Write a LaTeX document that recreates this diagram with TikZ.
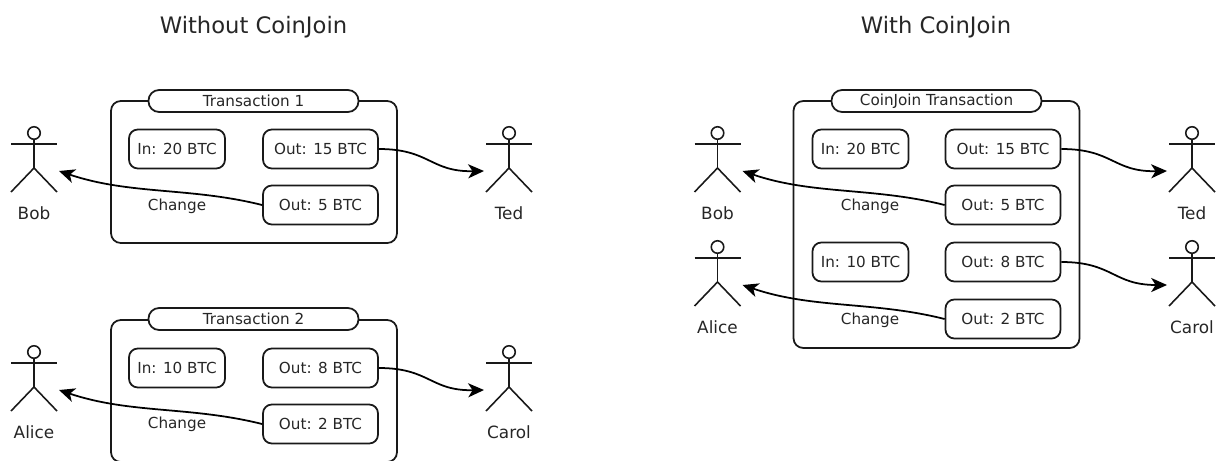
\documentclass[tikz,border=0pt]{standalone}
\usepackage{fontspec}
\setmainfont{DejaVu Sans}
\usetikzlibrary{arrows.meta}
\tikzset{
	every node/.style={font=\fontsize{8.65}{10}\selectfont,text=black!85},
	txbox/.style={draw=black!90,rounded corners=5.5pt,line width=1pt,minimum width=5.72cm,minimum height=2.84cm},
	txtab/.style={draw=black!90,fill=white,rounded corners=6pt,line width=1pt,minimum width=4.2cm,minimum height=0.44cm,inner sep=0pt},
	inbox/.style={draw=black!90,rounded corners=5pt,line width=1pt,minimum width=1.92cm,minimum height=0.78cm,inner sep=0pt},
	outbox/.style={draw=black!90,rounded corners=5pt,line width=1pt,minimum width=2.3cm,minimum height=0.78cm,inner sep=0pt},
	title/.style={font=\fontsize{12.9}{15}\selectfont},
	who/.style={font=\fontsize{9.6}{11}\selectfont},
	stick/.style={draw=black!90,line width=0.9pt},
	flow/.style={-{Stealth[length=9pt,width=8pt,inset=2.5pt]},draw=black,line width=1pt},
}
\newcommand{\actor}[4]{
	\node[stick,circle,minimum size=0.25cm,inner sep=0pt] (#1) at (#2,#3) {};
	\node[who] (#1label) at (#2,#3+80) {#4};
	\coordinate (#1left) at (#2-25,#3+38);
	\coordinate (#1right) at (#2+25,#3+38);
	\coordinate (#1arml) at (#2-23,#3+11);
	\coordinate (#1armr) at (#2+23,#3+11);
	\coordinate (#1hip) at (#2,#3+35);
	\coordinate (#1legl) at (#2-23,#3+59);
	\coordinate (#1legr) at (#2+23,#3+59);
	\draw[stick] (#1arml) -- (#1armr);
	\draw[stick] (#1.south) -- (#1hip);
	\draw[stick] (#1legl) -- (#1hip) -- (#1legr);
}
\begin{document}
\begin{tikzpicture}[x=0.02cm,y=-0.02cm]
	\path[use as bounding box,clip] (0,0) rectangle (1222,460);
	\node[title] (without) at (253.5,27) {Without CoinJoin};
	\node[title] (with) at (936,27) {With CoinJoin};

	\node[txbox] (tx1) at (254,172) {};
	\node[txtab] (tx1tab) at (253.5,101) {Transaction 1};
	\node[inbox] (in20) at (177,149) {In: 20 BTC};
	\node[outbox] (out15) at (320.5,149) {Out: 15 BTC};
	\node[outbox] (out5) at (320.5,205) {Out: 5 BTC};
	\node (change1) at (177,206) {Change};
	\actor{bob}{34}{133}{Bob}
	\actor{ted}{509}{133}{Ted}
	\draw[flow] (out15.east) .. controls (430,149) and (430,172) .. (tedleft);
	\draw[flow] (out5.west) .. controls (190,187) and (130,195) .. (bobright);

	\node[txbox] (tx2) at (254,391) {};
	\node[txtab] (tx2tab) at (253.5,319) {Transaction 2};
	\node[inbox] (in10) at (177,368) {In: 10 BTC};
	\node[outbox] (out8) at (320.5,368) {Out: 8 BTC};
	\node[outbox] (out2) at (320.5,424) {Out: 2 BTC};
	\node (change2) at (177,424) {Change};
	\actor{alice}{34}{352}{Alice}
	\actor{carol}{509}{352}{Carol}
	\draw[flow] (out8.east) .. controls (430,368) and (430,391) .. (carolleft);
	\draw[flow] (out2.west) .. controls (190,406) and (130,414) .. (aliceright);

	\node[txbox,minimum height=4.94cm] (cj) at (936.5,224.5) {};
	\node[txtab] (cjtab) at (936.5,101) {CoinJoin Transaction};
	\node[inbox] (cjin20) at (860.5,149) {In: 20 BTC};
	\node[outbox] (cjout15) at (1003,149) {Out: 15 BTC};
	\node[outbox] (cjout5) at (1003,205) {Out: 5 BTC};
	\node (cjchange1) at (870,206) {Change};
	\node[inbox] (cjin10) at (860.5,262) {In: 10 BTC};
	\node[outbox] (cjout8) at (1003,262) {Out: 8 BTC};
	\node[outbox] (cjout2) at (1003,319) {Out: 2 BTC};
	\node (cjchange2) at (870,320) {Change};
	\actor{cjbob}{717.5}{133}{Bob}
	\actor{cjted}{1192}{133}{Ted}
	\actor{cjalice}{717.5}{247}{Alice}
	\actor{cjcarol}{1192}{247}{Carol}
	\draw[flow] (cjout15.east) .. controls (1113,149) and (1113,172) .. (cjtedleft);
	\draw[flow] (cjout5.west) .. controls (873,187) and (813,195) .. (cjbobright);
	\draw[flow] (cjout8.east) .. controls (1113,262) and (1113,285) .. (cjcarolleft);
	\draw[flow] (cjout2.west) .. controls (873,301) and (813,309) .. (cjaliceright);
\end{tikzpicture}
\end{document}
